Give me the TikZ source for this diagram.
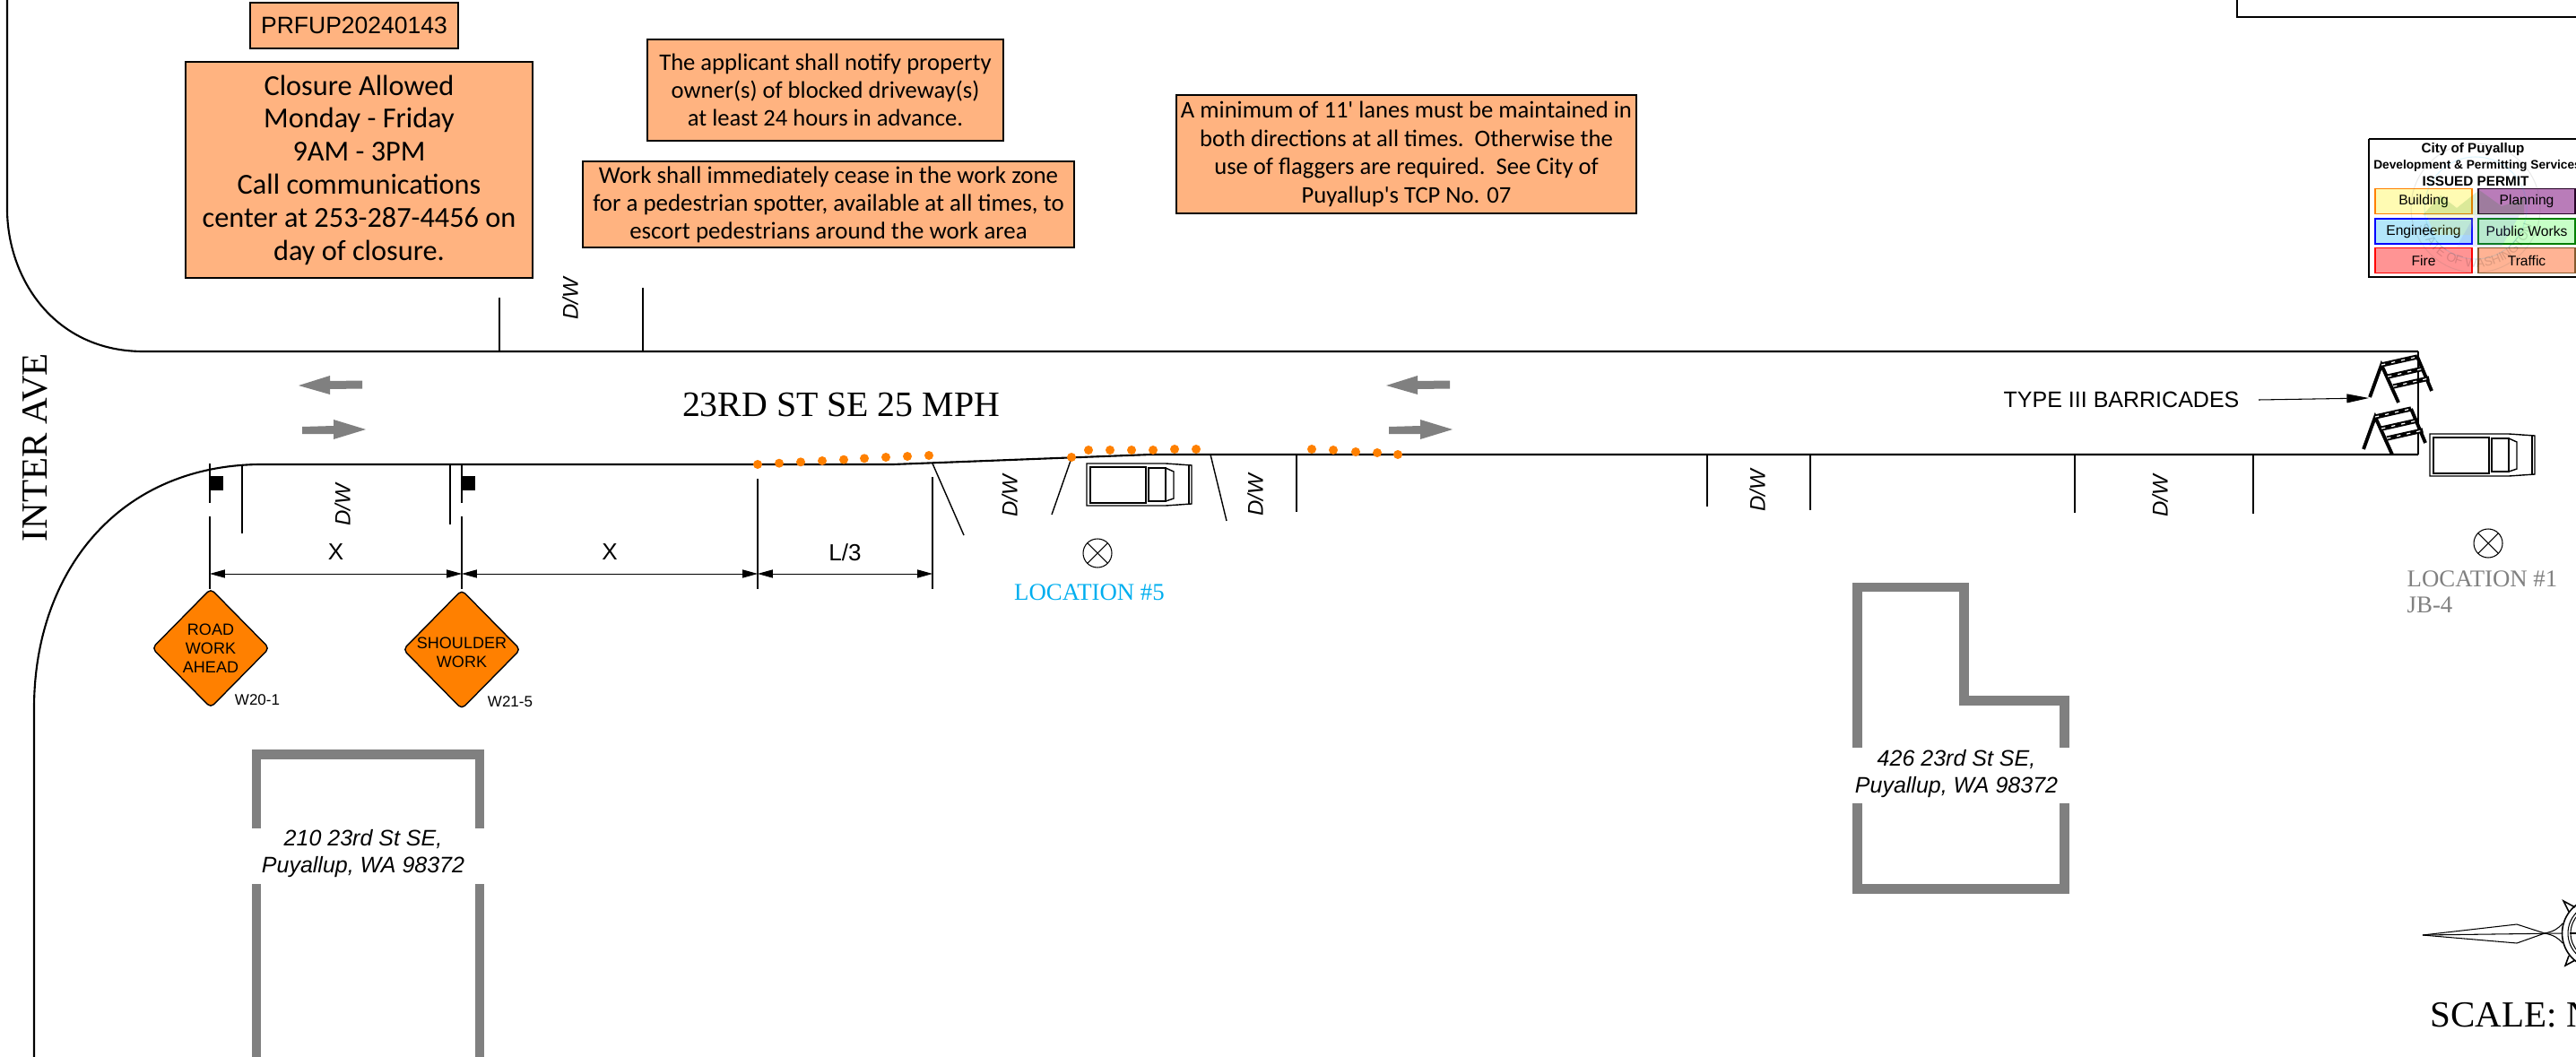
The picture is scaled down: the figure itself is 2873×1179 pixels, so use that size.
\documentclass[tikz,border=0pt]{standalone}
\usepackage{fontspec}
\setmainfont{Liberation Serif}
\setsansfont{Liberation Sans}
\newfontfamily\gillfont{Carlito}
\usetikzlibrary{shapes.geometric,arrows.meta,decorations.text}

% sizes are given in reference pixels (1 px = 0.01 cm)
\newcommand{\pxfont}[2]{\fontsize{\fpeval{#1*0.2845}}{\fpeval{#2*0.2845}}\selectfont}

\definecolor{noteorange}{HTML}{FFB380}
\definecolor{signorange}{HTML}{FF8000}
\definecolor{wallgray}{HTML}{808080}
\definecolor{locblue}{HTML}{00AEEF}
\definecolor{firefill}{HTML}{FF9494}
\definecolor{trafficfill}{HTML}{FFB394}
\definecolor{planningfill}{HTML}{B97CB9}

\tikzset{
  notebox/.style={draw=black, line width=0.45pt, fill=noteorange, align=center, inner sep=0pt},
  curb/.style={line width=0.6pt},
  drive/.style={line width=0.4pt},
  dwlabel/.style={rotate=90, inner sep=0pt, font=\sffamily\itshape\pxfont{24}{28}},
  extline/.style={line width=0.3pt},
  dimline/.style={line width=0.25pt, {Triangle[length=4.8pt,width=2.6pt]}-{Triangle[length=4.8pt,width=2.6pt]}},
  dimlabel/.style={yshift=0.24cm, inner sep=0pt, font=\sffamily\pxfont{26}{30}},
  cone/.style={fill=signorange},
  signbox/.style={diamond, draw=black, line width=0.4pt, fill=signorange, inner sep=0pt, rounded corners=0.5mm},
  signtext/.style={align=center, inner sep=0pt, font=\sffamily\pxfont{18}{21}},
  signcode/.style={inner sep=0pt, font=\sffamily\pxfont{17}{20}},
  wall/.style={wallgray, line width=3.1pt},
  address/.style={align=center, inner sep=0pt, font=\sffamily\itshape\pxfont{25}{30}},
  permitcell/.style={minimum width=1.08cm, minimum height=0.28cm, inner sep=0pt, line width=0.45pt, font=\sffamily\pxfont{15.6}{18}},
  truck/.pic={
    \draw[line width=0.4pt] (0,0) -- (88,0) -- (117,2) -- (117,45) -- (88,47) -- (0,47) -- cycle;
    \draw[line width=0.45pt] (4,4) rectangle (66,44);
    \draw[line width=0.45pt] (69,5) rectangle (88,42);
    \draw[line width=0.4pt] (88,5) -- (97,9) -- (97,39) -- (88,42);
    \draw[line width=0.4pt] (114,2) -- (114,45);
  },
  barricade/.pic={
    \draw[line width=1.1pt] (-13,36) -- (0,0) -- (19,42);
    \draw[line width=1.1pt] (40,-9) -- (56,29);
    \foreach \rail in {0,13,24} {
      \draw[line width=1.5pt] (\rail*0.55,\rail) -- (\rail*0.55+40,\rail-9);
      \draw[white, line width=0.35pt, dash pattern=on 1.2pt off 2pt] (\rail*0.55,\rail) -- (\rail*0.55+40,\rail-9);
    }
  },
  location/.pic={
    \draw[line width=0.3pt] (0,0) circle [radius=16];
    \draw[line width=0.3pt] (-11.3,-11.3) -- (11.3,11.3);
    \draw[line width=0.3pt] (-11.3,11.3) -- (11.3,-11.3);
  }
}

\begin{document}
\begin{tikzpicture}[x=0.01cm, y=-0.01cm]
  \useasboundingbox (0,0) rectangle (2873,1179);
  \clip (0,0) rectangle (2873,1179);

  % Draw the road edges
  \draw[curb] (8,-5) -- (8,233) .. controls (8,310) and (60,392) .. (160,392) -- (2697,392);
  \draw[curb] (38,1185) -- (38,790) .. controls (38,640) and (130,520) .. (289,518)
    -- (996,518) -- (1283,507) -- (2697,507);
  \draw[drive] (2697,392) -- (2697,507);

  % Draw the title block corner
  \draw[line width=0.6pt] (2495,-5) -- (2495,19) -- (2880,19);

  % Draw the driveways
  \foreach \xa/\ya/\xb/\yb in {557/392/557/332, 717/392/717/321, 270/518/270/595, 502/518/502/585,
    1040/517/1075/597, 1195/511/1173/574, 1350/507/1368/581, 1446/507/1446/571,
    1904/507/1904/565, 2019/507/2019/569, 2314/507/2314/572, 2513/507/2513/573} {
    \draw[drive] (\xa,\ya) -- (\xb,\yb);
  }
  \foreach \px/\py [count=\i] in {636/333, 382/563, 1126/553, 1400/552, 1960/547, 2409/553} {
    \node[dwlabel] (dw\i) at (\px,\py) {D/W};
  }

  % Draw the traffic arrows
  \foreach \px in {333,1546} {
    \fill[wallgray] (\px,430) -- (\px+35,419) -- (\px+35,425) -- (\px+71,424.5) -- (\px+71,433.5) -- (\px+35,434) -- (\px+35,440) -- cycle;
  }
  \foreach \px in {408,1620} {
    \fill[wallgray] (\px,479) -- (\px-36,468) -- (\px-36,475) -- (\px-71,476) -- (\px-71,484) -- (\px-36,484) -- (\px-36,490) -- cycle;
  }

  % Draw the cones
  \foreach \px/\py in {845/518, 869/516.7, 893/515.3, 917/514, 941/512.7, 964/511.3, 988/510, 1012/509, 1036/508} {
    \fill[cone] (\px,\py) circle [radius=5];
  }
  \foreach \px/\py in {1195/510, 1214/502, 1238/502, 1262/502, 1286/502, 1310/501, 1334/501,
    1463/501, 1487/502, 1512/504, 1536/505, 1559/507} {
    \fill[cone] (\px,\py) circle [radius=5];
  }

  % Draw the sign posts and the dimensions
  \foreach \px in {234,515} {
    \draw[extline] (\px,517) -- (\px,561);
    \draw[extline] (\px,576) -- (\px,657);
    \fill (\px,531) rectangle (\px+15,547);
  }
  \draw[extline] (845,534) -- (845,657);
  \draw[extline] (1040,532) -- (1040,657);
  \coordinate (dimA) at (234,640);
  \coordinate (dimB) at (515,640);
  \coordinate (dimC) at (845,640);
  \coordinate (dimD) at (1040,640);
  \draw[dimline] (dimA) -- node[dimlabel] (xfirst) {X} (dimB);
  \draw[dimline] (dimB) -- node[dimlabel] (xsecond) {X} (dimC);
  \draw[dimline] (dimC) -- node[dimlabel] (taper) {L/3} (dimD);

  % Draw the signs
  \node[signbox, minimum width=1.31cm, minimum height=1.33cm] (roadsign) at (235,723) {};
  \node[signbox, minimum width=1.31cm, minimum height=1.33cm] (shouldersign) at (515,724.5) {};
  \node[signtext] (roadtext) at (235,723) {ROAD\\WORK\\AHEAD};
  \node[signtext] (shouldertext) at (515,728) {SHOULDER\\WORK};
  \node[signcode] (roadcode) at (287,781) {W20-1};
  \node[signcode] (shouldercode) at (569,783) {W21-5};

  % Draw the trucks
  \pic at (1212,517) {truck};
  \pic at (2710,484) {truck};

  % Draw the barricades
  \pic at (2656,407) {barricade};
  \pic at (2649,465) {barricade};
  \coordinate (barrtip) at (2642,444);
  \node[inner sep=0pt, font=\sffamily\pxfont{25}{28}] (barrtext) at (2366,446) {TYPE III BARRICADES};
  \draw[line width=0.3pt, -{Triangle[length=7pt,width=2.8pt]}] ([xshift=0.21cm]barrtext.east) -- (barrtip);

  % Draw the locations
  \pic at (1224,617) {location};
  \pic at (2775,606) {location};
  \node[anchor=center, inner sep=0pt, text=locblue, font=\pxfont{26.8}{30}] (locfive) at (1215,661) {LOCATION \#5};
  \node[anchor=north west, inner sep=0pt, align=left, text=wallgray, font=\pxfont{26.8}{29}] (locone) at (2684,636) {LOCATION \#1\\JB-4};

  % Add the street names
  \node[inner sep=0pt, font=\pxfont{39.8}{45}] (street) at (938,452) {23RD ST SE 25 MPH};
  \node[rotate=90, inner sep=0pt, font=\pxfont{41}{46}] (cross) at (39,499) {INTER AVE};

  % Draw the buildings
  \draw[wall] (286,924) -- (286,841.5) -- (535,841.5) -- (535,924);
  \draw[wall] (286,986) -- (286,1185);
  \draw[wall] (535,986) -- (535,1185);
  \node[address] (westaddr) at (405,952) {210 23rd St SE,\\Puyallup, WA 98372};
  \draw[wall] (2071.5,834) -- (2071.5,655) -- (2190.5,655) -- (2190.5,781.5) -- (2302.5,781.5) -- (2302.5,834);
  \draw[wall] (2071.5,896) -- (2071.5,991.5) -- (2302.5,991.5) -- (2302.5,896);
  \node[address] (eastaddr) at (2182,863) {426 23rd St SE,\\Puyallup, WA 98372};

  % Add the notes
  \node[notebox, minimum width=2.32cm, minimum height=0.51cm, font=\sffamily\pxfont{26.5}{30}] (permit) at (395,28.5) {PRFUP20240143};
  \node[notebox, minimum width=3.87cm, minimum height=2.41cm, font=\gillfont\pxfont{32.3}{36.8}] (closure) at (400.5,189.5)
    {Closure Allowed\\Monday - Friday\\9AM - 3PM\\Call communications\\center at 253-287-4456 on\\day of closure.};
  \node[notebox, minimum width=3.97cm, minimum height=1.13cm, font=\gillfont\pxfont{26.6}{31}] (notify) at (920.5,100.5)
    {The applicant shall notify property\\owner(s) of blocked driveway(s)\\at least 24 hours in advance.};
  \node[notebox, minimum width=5.48cm, minimum height=0.96cm, font=\gillfont\pxfont{26.9}{31}] (spotter) at (924,228)
    {Work shall immediately cease in the work zone\\for a pedestrian spotter, available at all times, to\\escort pedestrians around the work area};
  \node[notebox, minimum width=5.13cm, minimum height=1.32cm, font=\gillfont\pxfont{26.6}{31.6}] (lanes) at (1568.5,172)
    {A minimum of 11' lanes must be maintained in\\both directions at all times.\ \ Otherwise the\\use of flaggers are required.\ \ See City of\\Puyallup's TCP No. 07};

  % Draw the permit stamp
  \draw[line width=0.5pt] (2642,155) -- (2880,155);
  \draw[line width=0.5pt] (2642,155) -- (2642,309) -- (2880,309);
  \node[permitcell, draw=orange, fill=yellow!30] (building) at (2703,224.5) {Building};
  \node[permitcell, draw=black!70!violet, fill=planningfill] (planning) at (2818,224.5) {Planning};
  \node[permitcell, draw=blue, fill=cyan!30] (engineering) at (2703,258) {Engineering};
  \node[permitcell, draw=green!50!black, fill=green!22] (publicworks) at (2818,258) {Public Works};
  \node[permitcell, draw=red, fill=firefill] (fire) at (2703,290.5) {Fire};
  \node[permitcell, draw=brown!70!black, fill=trafficfill] (traffic) at (2818,290.5) {Traffic};
  \node[inner sep=0pt, font=\sffamily\bfseries\pxfont{15.2}{18}] (stampcity) at (2758,167) {City of Puyallup};
  \node[inner sep=0pt, font=\sffamily\bfseries\pxfont{13.7}{15}] (stampdept) at (2763,185) {Development \& Permitting Services};
  \node[inner sep=0pt, font=\sffamily\bfseries\pxfont{15.3}{18}] (stampissued) at (2761,202) {ISSUED PERMIT};
  % the faint seal behind the stamp
  \begin{scope}[opacity=0.14]
    \draw[line width=0.3pt, black!60] (2761,232) circle [radius=72];
    \draw[line width=0.3pt, cyan] (2761,232) circle [radius=57];
    \fill[green!50!black] (2702,240) -- (2722,218) -- (2740,232) -- (2765,212) -- (2790,230) -- (2815,222) -- (2815,240) -- cycle;
    \fill[yellow] (2706,240) -- (2760,240) -- (2755,262) -- (2716,262) -- cycle;
    \fill[blue!60] (2760,240) -- (2810,240) -- (2790,275) -- (2740,275) -- cycle;
    \path[decorate, decoration={text along path, text align=center,
      text={|\sffamily\pxfont{14}{16}\color{black}|STATE OF WASHINGTON}}]
      (2696,232) .. controls (2696,320) and (2826,320) .. (2826,232);
  \end{scope}

  % Draw the north arrow
  \draw[line width=0.3pt] (2702,1043) -- (2807,1031) -- (2838,1041) -- (2807,1052) -- cycle;
  \draw[line width=0.3pt] (2702,1043) -- (2858,1041);
  \draw[line width=0.3pt] (2838,1041) .. controls (2848,1039) and (2853,1036) .. (2858,1030);
  \draw[line width=0.3pt] (2838,1041) .. controls (2848,1043) and (2853,1046) .. (2858,1052);
  \draw[line width=0.45pt] (2897,1041) circle [radius=39.5];
  \draw[line width=0.3pt] (2897,1041) circle [radius=33];
  \draw[line width=0.3pt] (2897,1041) circle [radius=30];
  \draw[line width=0.45pt] (2872,1012) -- (2859,1005) -- (2865,1017);
  \draw[line width=0.45pt] (2872,1071) -- (2861,1077) -- (2865,1066);
  \draw[line width=0.3pt] (2866,1041) -- (2880,1041);
  \node[anchor=west, inner sep=0pt, font=\pxfont{41}{45}] (scale) at (2710,1132) {SCALE: N};
\end{tikzpicture}
\end{document}
